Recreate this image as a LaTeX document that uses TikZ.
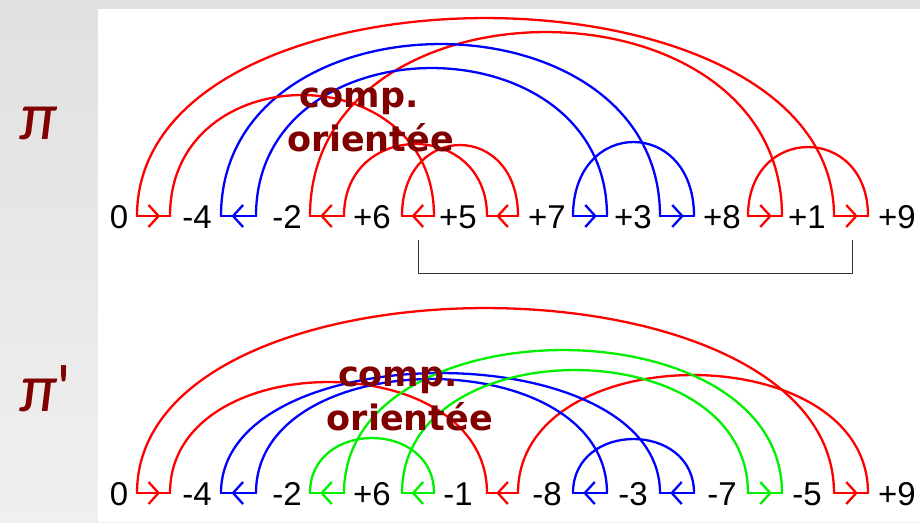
\documentclass[tikz,border=0pt]{standalone}
\usepackage{fontspec}
\setmainfont{Liberation Sans}
\newfontfamily\cmpfont{DejaVu Sans}
\newfontfamily\pifont{Carlito}
\usetikzlibrary{arrows.meta, decorations.markings, calc}

\definecolor{darkred}{RGB}{128,0,0}
\definecolor{arcred}{RGB}{255,0,0}
\definecolor{arcblue}{RGB}{0,0,255}
\definecolor{arcgreen}{RGB}{0,240,0}

\begin{document}
\begin{tikzpicture}[
			x=1pt, y=-1pt,
			elem/.style={font=\fontsize{33}{33}\selectfont, anchor=base, inner sep=0pt},
			arcline/.style={line width=2.3pt},
			bedge/.style={line width=2.3pt, line cap=rect, postaction={decorate},
				decoration={markings, mark=at position 0.7 with {\arrow{Straight Barb[length=10pt,width=22pt]}}}},
			comptext/.style={font=\cmpfont\bfseries\fontsize{35}{44}\selectfont, text=darkred, align=center, inner sep=0pt, anchor=north},
			pilabel/.style={font=\pifont\itshape\fontsize{68}{68}\selectfont, text=darkred, inner sep=0pt, anchor=base west},
			bracket/.style={black!80, line width=1pt}
			]
			\useasboundingbox (0,0) rectangle (920,522);
			
			% --- FOND ---
			\shade[top color=black!12, bottom color=black!6] (0,0) rectangle (920,522);
			\fill[white] (98,9) rectangle (920,522);
			
			% extremites des aretes (rangee haute a, rangee basse b)
			\foreach \g/\l/\r in {0/137/170, 1/221/256, 2/310/344, 3/402/434, 4/487/518,
				5/573/607, 6/660/694, 7/748/782, 8/834/868} {
				\coordinate (a\g l) at (\l,216);
				\coordinate (a\g r) at (\r,216);
				\coordinate (b\g l) at (\l,493);
				\coordinate (b\g r) at (\r,493);
			}
			
			% --- PERMUTATION PI ---
			\node[pilabel] (pi1) at (19,139) {π};
			\foreach \x/\t [count=\i from 0] in {119/0, 197/-4, 287/-2, 372/+6, 458/+5,
				547/+7, 633/+3, 722/+8, 807/+1, 897/+9}
			\node[elem] (p\i) at (\x,228) {\t};
			
			% Arcs
			\foreach \s/\e/\h/\c in {a0l/a8l/198/arcred, a2l/a7r/184/arcred,
				a1l/a6l/172/arcblue, a1r/a5r/148/arcblue, a0r/a3r/121/arcred,
				a2r/a4l/72/arcred, a3l/a4r/71/arcred, a5l/a6r/74/arcblue, a7l/a8r/69/arcred}
			\draw[arcline, \c] (\s) .. controls +(0,-1.333*\h) and +(0,-1.333*\h) .. (\e);
			
			% Aretes orientees
			\foreach \g/\c/\s/\e in {0/arcred/l/r, 1/arcblue/r/l, 2/arcred/r/l, 3/arcred/r/l,
				4/arcred/r/l, 5/arcblue/l/r, 6/arcblue/l/r, 7/arcred/l/r, 8/arcred/l/r}
			\draw[bedge, \c] (a\g\s) -- (a\g\e);
			
			\coordinate (m3) at (418,240);
			\coordinate (m8) at (852,240);
			\draw[bracket] (m3) -- ++(0,33) -| (m8);
			
			\node[comptext] (cmp1) at (371,88) {comp.\hspace*{24pt}\\orientée};
			
			% --- PERMUTATION PI' ---
			\node[pilabel] (pi2) at (19,411) {π{\upshape\textquotesingle}};
			\foreach \x/\t [count=\i from 0] in {119/0, 197/-4, 287/-2, 372/+6, 458/-1,
				547/-8, 633/-3, 722/-7, 807/-5, 897/+9}
			\node[elem] (q\i) at (\x,505) {\t};
			
			% Arcs
			\foreach \s/\e/\h/\c in {b0l/b8l/185/arcred, b4r/b8r/118/arcred,
				b0r/b4l/111/arcred, b1l/b6l/120/arcblue, b1r/b5r/114/arcblue,
				b2l/b3r/55/arcgreen, b2r/b7r/143/arcgreen, b3l/b7l/123/arcgreen,
				b5l/b6r/54/arcblue}
			\draw[arcline, \c] (\s) .. controls +(0,-1.333*\h) and +(0,-1.333*\h) .. (\e);
			
			% Aretes orientees
			\foreach \g/\c/\s/\e in {0/arcred/l/r, 1/arcblue/r/l, 2/arcgreen/r/l, 3/arcgreen/r/l,
				4/arcred/r/l, 5/arcblue/r/l, 6/arcblue/r/l, 7/arcgreen/l/r, 8/arcred/l/r}
			\draw[bedge, \c] (b\g\s) -- (b\g\e);
			
			\node[comptext] (cmp2) at (410,367) {comp.\hspace*{24pt}\\orientée};
			
		\end{tikzpicture}
\end{document}
